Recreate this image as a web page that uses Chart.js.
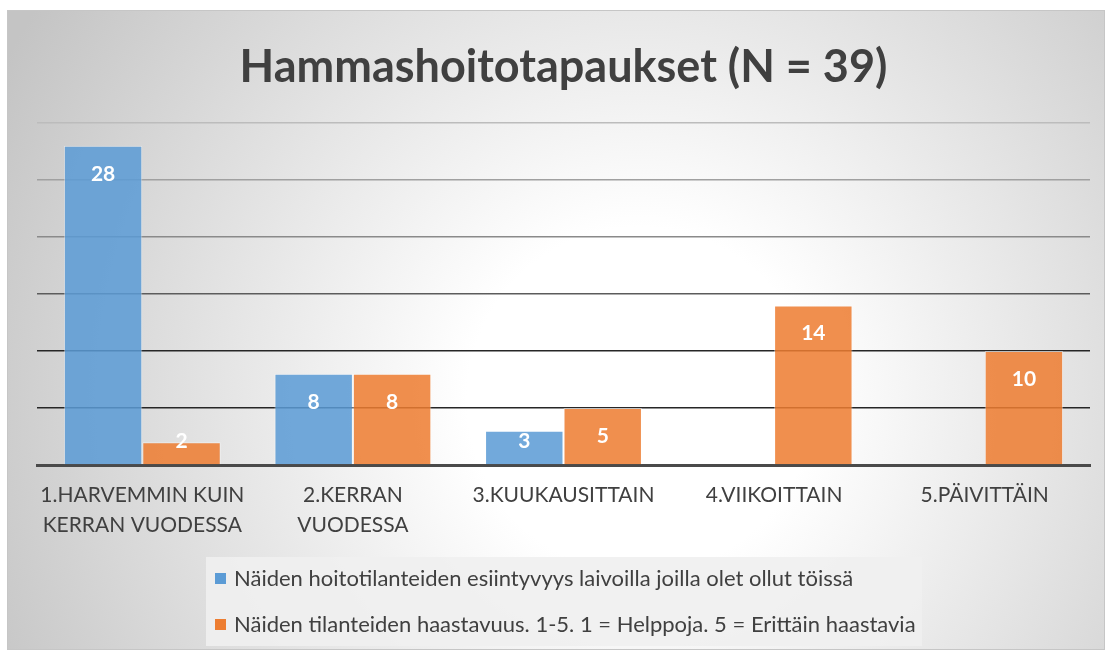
<!DOCTYPE html>
<html>
<head>
<meta charset="utf-8">
<script src="https://cdn.jsdelivr.net/npm/chart.js@4/dist/chart.umd.min.js"></script>
<style>
html,body{margin:0;padding:0;background:#fff;}
#wrap{width:1110px;height:653px;position:relative;}
</style>
</head>
<body>
<div id="wrap"><canvas id="c" width="1110" height="653"></canvas></div>
<script>
const titleText = 'Hammashoitotapaukset (N = 39)';
const categories = [
  ['1.HARVEMMIN KUIN', 'KERRAN VUODESSA'],
  ['2.KERRAN', 'VUODESSA'],
  '3.KUUKAUSITTAIN',
  '4.VIIKOITTAIN',
  '5.PÄIVITTÄIN'
];
const seriesNames = [
  'Näiden hoitotilanteiden esiintyvyys laivoilla joilla olet ollut töissä',
  'Näiden tilanteiden haastavuus. 1-5. 1 = Helppoja. 5 = Erittäin haastavia'
];
const frequencyValues = [28, 8, 3, null, null];
const difficultyValues = [2, 8, 5, 14, 10];
const yTicks = [0, 5, 10, 15, 20, 25, 30];

const gridColors = {0:'rgba(0,0,0,0)',5:'#262626',10:'#262626',15:'#5c5c5c',20:'#8a8a8a',25:'#a0a0a0',30:'#bcbcbc'};

const bgPlugin = {
  id: 'bg',
  beforeDraw(chart) {
    const ctx = chart.ctx;
    ctx.save();
    ctx.fillStyle = '#ffffff';
    ctx.fillRect(0, 0, chart.width, chart.height);
    const g = ctx.createRadialGradient(640, 400, 0, 640, 400, 720);
    g.addColorStop(0, '#ffffff');
    g.addColorStop(0.24, '#ffffff');
    g.addColorStop(1, '#c4c4c4');
    ctx.fillStyle = g;
    ctx.fillRect(7, 10, 1098, 640);
    ctx.strokeStyle = '#c6c6c6';
    ctx.lineWidth = 1;
    ctx.strokeRect(7.5, 10.5, 1097, 639);
    ctx.restore();
  }
};

const labelPlugin = {
  id: 'barLabels',
  afterDatasetsDraw(chart) {
    const ctx = chart.ctx;
    ctx.save();
    ctx.fillStyle = '#ffffff';
    ctx.font = 'bold 21px Lato';
    ctx.textAlign = 'center';
    ctx.textBaseline = 'middle';
    chart.data.datasets.forEach((ds, di) => {
      const meta = chart.getDatasetMeta(di);
      meta.data.forEach((bar, i) => {
        const v = ds.data[i];
        if (v === null || v === undefined || v === 0) return;
        const y = Math.min(bar.y + 28, bar.base - 23);
        ctx.fillText(String(v), bar.x, y);
      });
    });
    ctx.restore();
  }
};

const legendPlugin = {
  id: 'boxLegend',
  afterDraw(chart) {
    const ctx = chart.ctx;
    ctx.save();
    ctx.fillStyle = 'rgba(240,240,240,0.9)';
    ctx.fillRect(206, 557, 716, 89);
    ctx.font = '22px Lato';
    ctx.textAlign = 'left';
    ctx.textBaseline = 'middle';
    const rows = [579, 625];
    chart.data.datasets.forEach((ds, i) => {
      const y = rows[i];
      ctx.fillStyle = ds.legendColor;
      ctx.fillRect(215, y - 6, 11, 11);
      ctx.fillStyle = '#404040';
      ctx.fillText(ds.label, 234, y);
    });
    ctx.restore();
  }
};

new Chart(document.getElementById('c'), {
  type: 'bar',
  data: {
    labels: categories,
    datasets: [
      {
        label: seriesNames[0],
        data: frequencyValues,
        backgroundColor: 'rgba(91,155,213,0.86)',
        borderColor: 'rgba(255,255,255,0.45)',
        borderWidth: 1,
        legendColor: '#5b9bd5'
      },
      {
        label: seriesNames[1],
        data: difficultyValues,
        backgroundColor: 'rgba(237,125,49,0.86)',
        borderColor: 'rgba(255,255,255,0.45)',
        borderWidth: 1,
        legendColor: '#ed7d31'
      }
    ]
  },
  options: {
    responsive: false,
    animation: false,
    layout: { padding: { left: 37, right: 20, top: 0, bottom: 100 } },
    datasets: { bar: { categoryPercentage: 0.745, barPercentage: 1.0 } },
    plugins: {
      legend: { display: false },
      tooltip: { enabled: false },
      title: {
        display: true,
        text: titleText,
        color: '#404040',
        font: { family: 'Lato', size: 45, weight: 'bold', lineHeight: 1.2 },
        padding: { top: 40, bottom: 29 }
      }
    },
    scales: {
      x: {
        grid: { display: false, drawTicks: false },
        border: { display: true, color: '#4a4a4a', width: 3 },
        ticks: {
          color: '#404040',
          font: { family: 'Lato', size: 21, lineHeight: '30px' },
          padding: 15,
          maxRotation: 0,
          autoSkip: false
        },
        afterFit(scale) { scale.height = 88; }
      },
      y: {
        min: 0,
        max: 30,
        afterBuildTicks(scale) { scale.ticks = yTicks.map(v => ({ value: v })); },
        ticks: { display: false },
        border: { display: false },
        grid: {
          drawTicks: false,
          lineWidth: 1.6,
          color: (ctx) => gridColors[ctx.tick ? ctx.tick.value : 0] || '#888'
        },
        afterFit(scale) { scale.width = 0; }
      }
    }
  },
  plugins: [bgPlugin, labelPlugin, legendPlugin]
});
</script>
</body>
</html>
